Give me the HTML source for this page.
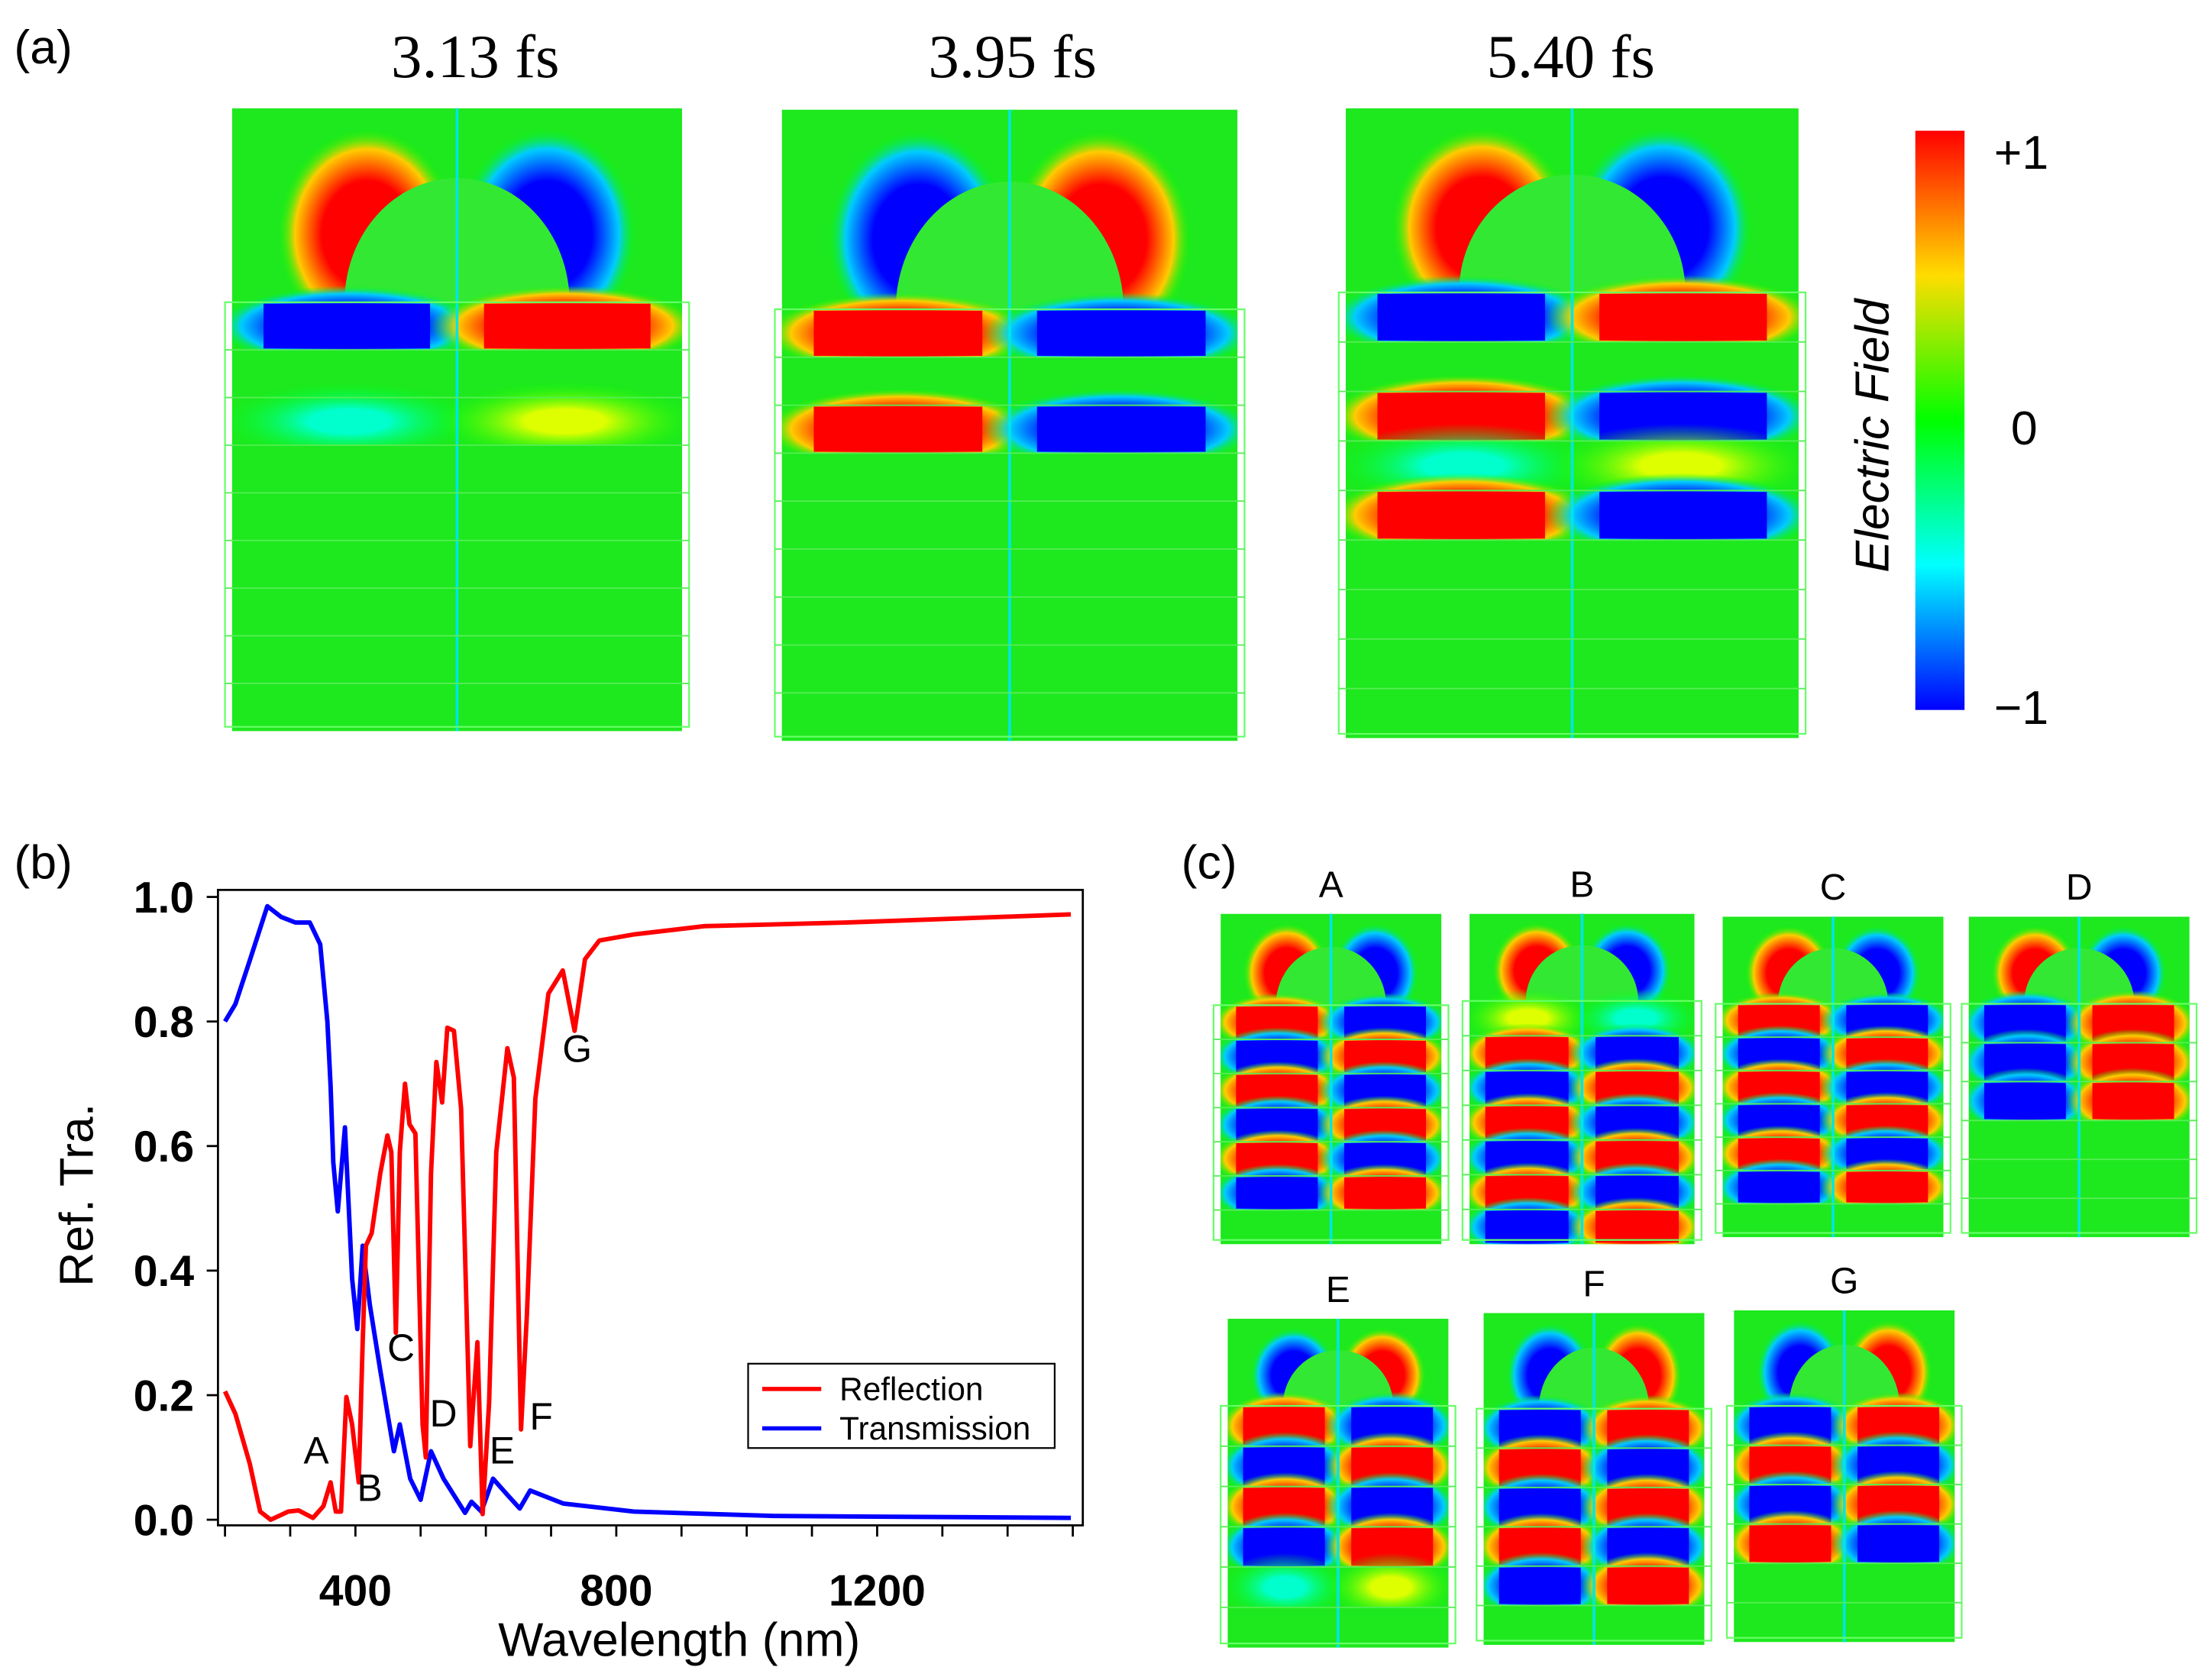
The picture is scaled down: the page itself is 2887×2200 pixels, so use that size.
<!DOCTYPE html>
<html><head><meta charset="utf-8"><style>
html,body{margin:0;padding:0;background:#fff}
svg{display:block}
</style></head><body>
<svg id="fig" width="2887" height="2200" viewBox="0 0 1568 1195" preserveAspectRatio="none" xmlns="http://www.w3.org/2000/svg" font-family="Liberation Sans, sans-serif">
<defs>
<linearGradient id="cbar" x1="0" y1="0" x2="0" y2="1">
<stop offset="0" stop-color="#ff0000"/><stop offset="0.25" stop-color="#ffdd00"/><stop offset="0.5" stop-color="#00ff00"/><stop offset="0.75" stop-color="#00ffff"/><stop offset="1" stop-color="#0000ff"/></linearGradient>
<radialGradient id="gR"><stop offset="0.5" stop-color="#ff0000"/><stop offset="0.8" stop-color="#ffcc00"/><stop offset="1" stop-color="#00ff00" stop-opacity="0"/></radialGradient>
<radialGradient id="gB"><stop offset="0.5" stop-color="#0000ff"/><stop offset="0.8" stop-color="#00ccff"/><stop offset="1" stop-color="#00ff00" stop-opacity="0"/></radialGradient>
<radialGradient id="gY"><stop offset="0.3" stop-color="#ddff00"/><stop offset="1" stop-color="#00ff00" stop-opacity="0"/></radialGradient>
<radialGradient id="gC"><stop offset="0.3" stop-color="#00ffcc"/><stop offset="1" stop-color="#00ff00" stop-opacity="0"/></radialGradient>
</defs>
<g id="panels"></g>
<text x="10" y="45" font-size="34">(a)</text>
<text x="338" y="55" font-size="44" text-anchor="middle" font-family="Liberation Serif, serif">3.13 fs</text>
<text x="720" y="55" font-size="44" text-anchor="middle" font-family="Liberation Serif, serif">3.95 fs</text>
<text x="1117" y="55" font-size="44" text-anchor="middle" font-family="Liberation Serif, serif">5.40 fs</text>
<rect x="1362" y="93" width="35" height="412" fill="url(#cbar)"/>
<text x="1418" y="120" font-size="34">+1</text>
<text x="1430" y="316" font-size="34">0</text>
<text x="1418" y="515" font-size="34">−1</text>
<text transform="translate(1343,310) rotate(-90)" font-size="34" font-style="italic" text-anchor="middle">Electric Field</text>
<text x="10" y="625" font-size="34">(b)</text>
<text x="840" y="625" font-size="34">(c)</text>
<g id="chart"></g>
</svg>
<script>
const NS="http://www.w3.org/2000/svg";
const wavelengthsR=[200,216,238,254,270,297,313,335,351,362,370,378,386,395,405,411,416,425,438,449,455,462,468,476,483,492,503,508,516,524,533,541,551,562,576,587,595,605,616,633,643,654,663,676,696,718,736,752,774,828,935,1152,1497];
const reflection=[0.206,0.17,0.09,0.013,0,0.013,0.015,0.003,0.022,0.06,0.013,0.013,0.197,0.153,0.06,0.285,0.44,0.46,0.556,0.617,0.59,0.30,0.59,0.70,0.635,0.62,0.153,0.10,0.556,0.735,0.67,0.79,0.785,0.66,0.118,0.285,0.009,0.188,0.59,0.757,0.71,0.145,0.33,0.676,0.845,0.882,0.785,0.90,0.93,0.94,0.953,0.959,0.972];
const wavelengthsT=[200,216,238,265,286,308,330,346,357,362,366,373,384,395,403,411,422,438,459,468,484,500,516,535,568,578,593,611,633,652,668,719,827,1043,1497];
const transmission=[0.80,0.828,0.898,0.985,0.968,0.959,0.959,0.924,0.80,0.696,0.574,0.495,0.63,0.387,0.306,0.44,0.345,0.24,0.11,0.153,0.066,0.032,0.11,0.066,0.011,0.029,0.013,0.066,0.04,0.018,0.047,0.026,0.013,0.006,0.003];
const yTicks=[0,0.2,0.4,0.6,0.8,1.0];
const yTickLabels=["0.0","0.2","0.4","0.6","0.8","1.0"];
const xMajor=[400,800,1200];
const xMinor=[200,300,400,500,600,700,800,900,1000,1100,1200,1300,1400,1500];
const markerLabels=["A","B","C","D","E","F","G"];
const markerX=[340,422,470,535,625,685,740];
const markerY=[0.09,0.03,0.255,0.15,0.09,0.145,0.735];

function X(l){return 160+(l-200)*185.5/400;}
function Y(v){return 1081-v*443;}
function mk(t,a,p){const e=document.createElementNS(NS,t);for(const k in a)e.setAttribute(k,a[k]);(p||chart).appendChild(e);return e;}
const chart=document.getElementById('chart');
let fr=mk('rect',{x:155,y:633,width:615,height:452,fill:'none',stroke:'#000','stroke-width':1.5});


yTicks.forEach((v,i)=>{
 let t=mk('line',{x1:147,x2:155,y1:Y(v),y2:Y(v),stroke:'#000','stroke-width':1.5});
 
 
 let l=mk('text',{x:138,y:Y(v)+11,'font-size':31,'font-weight':'bold','text-anchor':'end'});
 l.textContent=yTickLabels[i];
 
 
});
xMinor.forEach(l=>{
 let t=mk('line',{x1:X(l),x2:X(l),y1:1085,y2:1093,stroke:'#000','stroke-width':1.5});
 
 
});
xMajor.forEach(l=>{
 let t=mk('text',{x:X(l),y:1142,'font-size':31,'font-weight':'bold','text-anchor':'middle'});
 t.textContent=String(l);
 
 
});
let yt=mk('text',{transform:'translate(66,850) rotate(-90)','font-size':34,'text-anchor':'middle'});
yt.textContent='Ref. Tra.';


let xt=mk('text',{x:483,y:1178,'font-size':34,'text-anchor':'middle'});
xt.textContent='Wavelength (nm)';


function line(xs,ys,c,name){
 let d=xs.map((l,i)=>(i?'L':'M')+X(l).toFixed(1)+' '+Y(ys[i]).toFixed(1)).join(' ');
 let p=mk('path',{d:d,fill:'none',stroke:c,'stroke-width':3.2,'stroke-linejoin':'round'});
 
 
}
line(wavelengthsT,transmission,'#0000ff','transmission-line');
line(wavelengthsR,reflection,'#ff0000','reflection-line');
markerLabels.forEach((s,i)=>{
 let t=mk('text',{x:X(markerX[i]),y:Y(markerY[i]),'font-size':27,'text-anchor':'middle'});
 t.textContent=s;
 
 
});
let lg=mk('g',{});


mk('rect',{x:532,y:970,width:218,height:60,fill:'#fff',stroke:'#000','stroke-width':1.2},lg);
[['Reflection','#ff0000',988],['Transmission','#0000ff',1016]].forEach(([n,c,yy])=>{
 let l=mk('line',{x1:542,x2:584,y1:yy,y2:yy,stroke:c,'stroke-width':3},lg);
 
 
 let t=mk('text',{x:597,y:yy+8,'font-size':23},lg);
 t.textContent=n;
 
 
});

// field maps
const panels=document.getElementById('panels');
const defs=document.querySelector('defs');
const col={R:'#ff0000',B:'#0000ff',Y:'#ddff00',C:'#00ffcc',G:'#22ee22'};
function band(g,x,y,w,h,l,r){
 mk('rect',{x:x,y:y,width:w,height:h,fill:'#1ee81e'},g);
 if(l!=='G'){mk('ellipse',{cx:x+w*0.26,cy:y+h/2,rx:w*0.3,ry:h*0.85,fill:'url(#g'+l+')'},g);
  if(l==='R'||l==='B')mk('rect',{x:x+w*0.07,y:y+1,width:w*0.37,height:h-2,fill:col[l]},g);}
 if(r!=='G'){mk('ellipse',{cx:x+w*0.74,cy:y+h/2,rx:w*0.3,ry:h*0.85,fill:'url(#g'+r+')'},g);
  if(r==='R'||r==='B')mk('rect',{x:x+w*0.56,y:y+1,width:w*0.37,height:h-2,fill:col[r]},g);}
}
let cid=0;
function panel(name,x,y,w,h,topH,lobes,bands,title){
 cid++;
 let cp=mk('clipPath',{id:'cp'+cid},defs);
 mk('rect',{x:x,y:y,width:w,height:h},cp);
 let outer=mk('g',{},panels);
 
 
 let g=mk('g',{'clip-path':'url(#cp'+cid+')'},outer);
 mk('rect',{x:x,y:y,width:w,height:h,fill:'#1ee81e'},g);
 mk('ellipse',{cx:x+w*0.3,cy:y+topH*0.65,rx:w*0.2,ry:topH*0.55,fill:'url(#g'+lobes[0]+')'},g);
 mk('ellipse',{cx:x+w*0.7,cy:y+topH*0.65,rx:w*0.2,ry:topH*0.55,fill:'url(#g'+lobes[1]+')'},g);
 mk('ellipse',{cx:x+w/2,cy:y+topH,rx:w*0.25,ry:topH*0.64,fill:'#33e833'},g);
 let bh=(h-topH)/bands.length;
 bands.forEach((b,i)=>band(g,x,y+topH+i*bh,w,bh,b[0],b[1]));
 mk('line',{x1:x+w/2,x2:x+w/2,y1:y,y2:y+h,stroke:'#00e6e6','stroke-width':2},outer);
 mk('rect',{x:x-5,y:y+topH,width:w+10,height:h-topH-3,fill:'none',stroke:'#66ff66','stroke-width':1.2},outer);
 for(let i=1;i<bands.length;i++)mk('line',{x1:x-5,x2:x+w+5,y1:y+topH+i*bh,y2:y+topH+i*bh,stroke:'#55ee55','stroke-width':1},outer);
 if(title){let t=mk('text',{x:x+w/2,y:y-12,'font-size':26,'text-anchor':'middle'},panels);t.textContent=title;
  
  }
}
const GG=['G','G'];
panel('map-3-13fs',165,77,320,443,138,['R','B'],[['B','R'],GG,['C','Y'],GG,GG,GG,GG,GG,GG],null);
panel('map-3-95fs',556,78,324,449,142,['B','R'],[['R','B'],GG,['R','B'],GG,GG,GG,GG,GG,GG],null);
panel('map-5-40fs',957,77,322,448,131,['R','B'],[['B','R'],GG,['R','B'],['C','Y'],['R','B'],GG,GG,GG,GG],null);
panel('map-A',868,650,157,235,65,['R','B'],[['R','B'],['B','R'],['R','B'],['B','R'],['R','B'],['B','R'],GG],'A');
panel('map-B',1045,650,160,235,62,['R','B'],[['Y','C'],['R','B'],['B','R'],['R','B'],['B','R'],['R','B'],['B','R']],'B');
panel('map-C',1225,652,157,228,62,['R','B'],[['R','B'],['B','R'],['R','B'],['B','R'],['R','B'],['B','R'],GG],'C');
panel('map-D',1400,652,157,228,62,['R','B'],[['B','R'],['B','R'],['B','R'],GG,GG,GG],'D');
panel('map-E',873,938,157,234,62,['B','R'],[['R','B'],['B','R'],['R','B'],['B','R'],['C','Y'],GG],'E');
panel('map-F',1055,934,157,236,68,['B','R'],[['B','R'],['R','B'],['B','R'],['R','B'],['B','R'],GG],'F');
panel('map-G',1233,932,157,236,68,['B','R'],[['B','R'],['R','B'],['B','R'],['R','B'],GG,GG],'G');
</script>
</body></html>
